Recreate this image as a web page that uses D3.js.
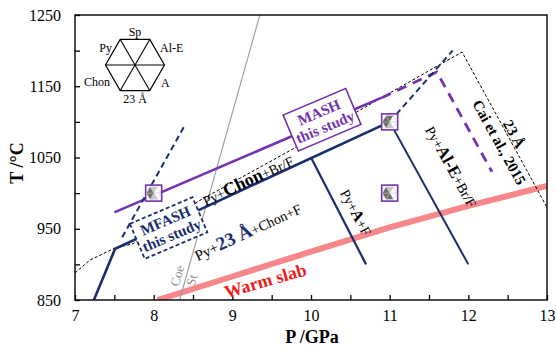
<!DOCTYPE html>
<html>
<head>
<meta charset="utf-8">
<script src="https://cdn.jsdelivr.net/npm/d3@7"></script>
<style>
body { margin: 0; background: #fff; }
svg text { font-family: "Liberation Serif", "Times New Roman", Tinos, "Noto Serif", "DejaVu Serif", serif; }
</style>
</head>
<body>
<svg id="chart" width="556" height="350"></svg>
<script>
// tick labels
const xLabels = [7, 8, 9, 10, 11, 12, 13];
const yLabels = [850, 950, 1050, 1150, 1250];

// phase boundaries, [P GPa, T °C]
const coeSt = [[8.33, 850], [9.35, 1250]];
const navySolid = [[7.24, 850], [7.51, 922], [11, 1100]];
const navyA = [[10, 1050], [10.7, 900]];
const navyAlE = [[11, 1100], [12, 900]];
const navyDashLow = [[7.6, 938], [8.4, 1096]];
const navyDashHigh = [[11, 1100], [11.8, 1200]];
const mashSolid = [[7.5, 973], [10.9, 1134]];
const mashDash = [[10.9, 1134], [11.6, 1170], [12.3, 1030]];
const caiLine = [[7, 888], [7.19, 906], [7.51, 923], [7.74, 929], [8.59, 990], [9.82, 1065], [10.88, 1133], [11.92, 1198], [13, 980]];
const warmSlab = [[8.05, 850], [9, 883], [10, 918], [11, 952], [12, 982], [13, 1010]];

// experiment points and phases shown in their hexagons
// order: Sp, Al-E, A, 23 Å, Chon, Py
const runs = [[8, 1000], [11, 1100], [11, 1000]];
const runPhases = [
    [1, 0, 0, 1, 2, 2],
    [2, 0, 0, 1, 2, 2],
    [1, 0, 0, 2, 2, 2]
];
const hexLabels = ["Sp", "Al-E", "A", "23 Å", "Chon", "Py"];

const navy = "#1a2e6e";
const purple = "#7432b0";
const shade = ["#fff", "#c8c8c8", "#6e6e6e"];

const svg = d3.select("#chart");
const x = d3.scaleLinear().domain([7, 13]).range([75, 547]);
const y = d3.scaleLinear().domain([850, 1250]).range([300, 15]);

const line = d3.line().x((d) => x(d[0])).y((d) => y(d[1]));

svg.append("defs").append("clipPath").attr("id", "clip")
    .append("rect").attr("x", 75).attr("y", 15).attr("width", 472).attr("height", 285);

const plot = svg.append("g").attr("clip-path", "url(#clip)");

const drawLine = (data, color, width, dash) => {
    plot.append("path")
        .attr("d", line(data))
        .attr("fill", "none")
        .attr("stroke", color)
        .attr("stroke-width", width)
        .attr("stroke-dasharray", dash || null);
};

drawLine(warmSlab, "#f7878b", 6);
drawLine(coeSt, "#9a9a9a", 1.1);
drawLine(caiLine, "#000", 1, "3,2");
drawLine(mashSolid, purple, 2.6);
drawLine(mashDash, purple, 2.8, "10,7");
drawLine(navyDashLow, navy, 2, "6,4");
drawLine(navyDashHigh, navy, 2, "6,4");
drawLine(navySolid, navy, 2.6);
drawLine(navyA, navy, 2.2);
drawLine(navyAlE, navy, 2);

// axes
svg.append("g")
    .attr("transform", "translate(0,300)")
    .call(d3.axisBottom(x).tickValues(d3.range(7, 13.01, 0.5)).tickSize(-5).tickPadding(10)
        .tickFormat((d) => (xLabels.includes(d) ? d : "")))
    .call((g) => g.select(".domain").remove())
    .call((g) => g.attr("font-family", null).selectAll("text").attr("font-size", 16))
    .call((g) => g.selectAll("line").attr("stroke-width", 1.3));

svg.append("g")
    .attr("transform", "translate(75,0)")
    .call(d3.axisLeft(y).tickValues(d3.range(850, 1251, 50)).tickSize(-5).tickPadding(14)
        .tickFormat((d) => (yLabels.includes(d) ? d : "")))
    .call((g) => g.select(".domain").remove())
    .call((g) => g.attr("font-family", null).selectAll("text").attr("font-size", 16))
    .call((g) => g.selectAll("line").attr("stroke-width", 1.3));

svg.append("rect")
    .attr("x", 75).attr("y", 15).attr("width", 472).attr("height", 285)
    .attr("fill", "none").attr("stroke", "#000").attr("stroke-width", 1.4);

svg.append("text")
    .attr("x", 312).attr("y", 343)
    .attr("text-anchor", "middle")
    .attr("font-size", 18).attr("font-weight", "bold")
    .text("P /GPa");

svg.append("text")
    .attr("transform", "translate(23,163) rotate(-90)")
    .attr("text-anchor", "middle")
    .attr("font-size", 18).attr("font-weight", "bold")
    .text("T /°C");

// labelled boxes
const box = (p, t, w, h, color, dash, lines) => {
    const g = svg.append("g")
        .attr("transform", `translate(${x(p)},${y(t)}) rotate(-23)`);
    g.append("rect")
        .attr("x", -w / 2).attr("y", -h / 2).attr("width", w).attr("height", h)
        .attr("fill", "#fff").attr("stroke", color)
        .attr("stroke-width", dash ? 1.8 : 1.6)
        .attr("stroke-dasharray", dash || null);
    g.selectAll("text").data(lines).join("text")
        .attr("y", (d, i) => (i - 0.5) * 16 + 5)
        .attr("text-anchor", "middle")
        .attr("font-size", 15).attr("font-weight", "bold")
        .attr("fill", color)
        .text((d) => d);
};

box(10.14, 1103, 68, 39, purple, null, ["MASH", "this study"]);
box(8.19, 951, 68, 38, navy, "4,2.5", ["MFASH", "this study"]);

// hexagon helpers
const hexPoint = (r, k) => [r * Math.cos((k * Math.PI) / 3), r * Math.sin((k * Math.PI) / 3)];
const triangleCorners = [[4, 5], [5, 0], [0, 1], [1, 2], [2, 3], [3, 4]];

runs.forEach((d, i) => {
    const g = svg.append("g").attr("transform", `translate(${x(d[0])},${y(d[1])})`);
    g.append("rect")
        .attr("x", -8).attr("y", -8).attr("width", 16).attr("height", 16)
        .attr("fill", "#fff").attr("stroke", purple).attr("stroke-width", 1.6);
    triangleCorners.forEach((c, j) => {
        const a = hexPoint(7.2, c[0]);
        const b = hexPoint(7.2, c[1]);
        g.append("path")
            .attr("d", `M0,0L${a[0]},${a[1]}L${b[0]},${b[1]}Z`)
            .attr("fill", shade[runPhases[i][j]])
            .attr("stroke", "#bbb").attr("stroke-width", 0.4);
    });
});

// legend hexagon
const hex = svg.append("g").attr("transform", "translate(135,65)");
const R = 29.5;
hex.append("path")
    .attr("d", "M" + d3.range(6).map((k) => hexPoint(R, k).join(",")).join("L") + "Z")
    .attr("fill", "none").attr("stroke", "#000").attr("stroke-width", 1.2);
[0, 1, 2].forEach((k) => {
    const a = hexPoint(R, k);
    const b = hexPoint(R, k + 3);
    hex.append("line")
        .attr("x1", a[0]).attr("y1", a[1]).attr("x2", b[0]).attr("y2", b[1])
        .attr("stroke", "#000").attr("stroke-width", 1.1);
});
const hexLabelPos = [[0, -29, "middle"], [25, -13, "start"], [26, 22, "start"], [0, 38, "middle"], [-25, 21, "end"], [-23, -13, "end"]];
hex.selectAll("text.hl").data(hexLabels).join("text")
    .attr("x", (d, i) => hexLabelPos[i][0])
    .attr("y", (d, i) => hexLabelPos[i][1])
    .attr("text-anchor", (d, i) => hexLabelPos[i][2])
    .attr("font-size", 12)
    .text((d) => d);

// rotated mixed labels
const label = (p, t, angle, parts) => {
    const txt = svg.append("text")
        .attr("transform", `translate(${x(p)},${y(t)}) rotate(${angle})`)
        .attr("text-anchor", "middle");
    parts.forEach((s) => {
        txt.append("tspan")
            .attr("font-size", s[1])
            .attr("font-weight", s[2] ? "bold" : "normal")
            .attr("fill", s[3] || "#000")
            .text(s[0]);
    });
    return txt;
};

label(9.2, 1017, -25, [["Py+", 14], ["Chon", 18, true], ["+Br/F", 14]]).attr("dy", 5);
label(9.2, 945, -25, [["Py+", 15], ["23 Å", 19, true, navy], ["+Chon+F", 14]]).attr("dy", 5);
label(10.57, 973, 62, [["Py+", 14], ["A", 16, true], ["+F", 14]]).attr("dy", 5);
label(11.78, 1037, 61, [["Py+", 14], ["Al-E", 17, true], ["+Br/F", 14]]).attr("dy", 5);

const cai = svg.append("g").attr("transform", `translate(${x(12.47)},${y(1076)}) rotate(61)`);
cai.append("text").attr("y", -5).attr("text-anchor", "middle")
    .attr("font-size", 15).attr("font-weight", "bold").text("23 Å");
cai.append("text").attr("y", 12).attr("text-anchor", "middle")
    .attr("font-size", 15).attr("font-weight", "bold").text("Cai et al., 2015");

const coe = svg.append("g").attr("transform", `translate(${x(8.39)},${y(881)}) rotate(-74)`);
coe.append("text").attr("y", -3).attr("text-anchor", "middle")
    .attr("font-size", 13).attr("fill", "#8c8c8c").text("Coe");
coe.append("text").attr("y", 12).attr("text-anchor", "middle")
    .attr("font-size", 13).attr("fill", "#8c8c8c").text("St");

label(9.42, 877, -16, [["Warm slab", 18, true, "#f01c1c"]]).attr("dy", 6);
</script>
</body>
</html>
